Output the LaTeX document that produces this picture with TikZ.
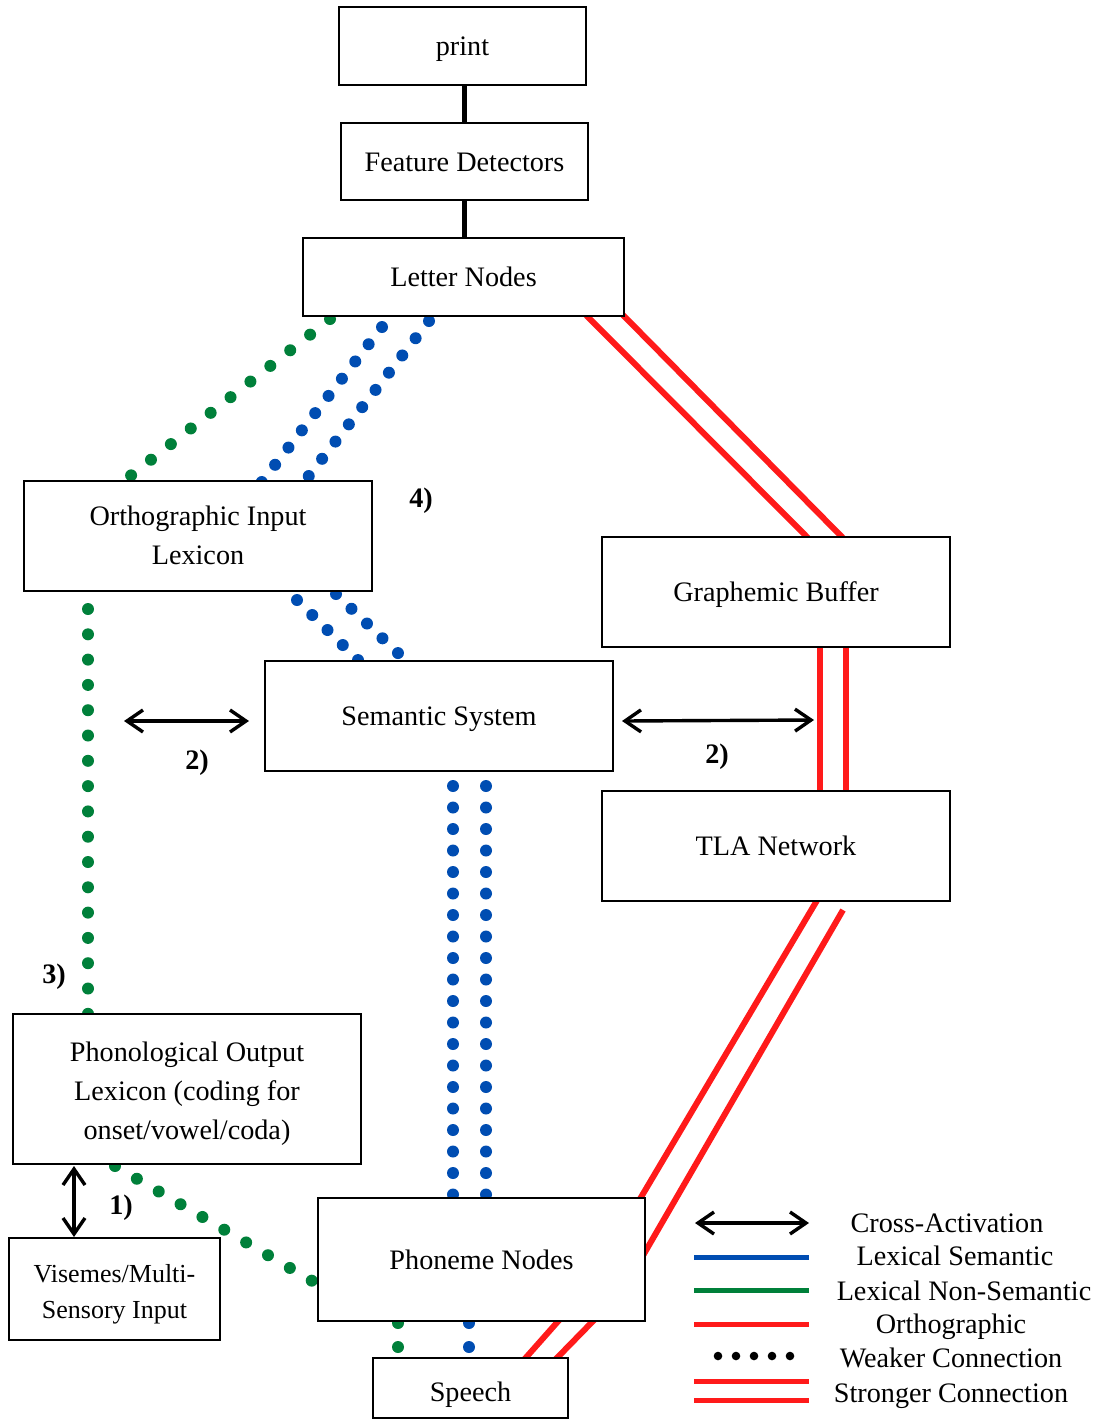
\documentclass[tikz,border=0pt]{standalone}
\usepackage{fontspec}
\setmainfont{Liberation Serif}
\usetikzlibrary{arrows.meta,calc,backgrounds}
\definecolor{lexblue}{RGB}{0,77,178}
\definecolor{lexgreen}{RGB}{0,128,58}
\definecolor{orthred}{RGB}{255,26,26}
\newcommand{\lowlines}[2]{\raisebox{#1}[\height][\depth]{\begin{tabular}{@{}c@{}}#2\end{tabular}}}
\begin{document}
\begin{tikzpicture}[x=0.5pt,y=-0.5pt,
 box/.style={draw=black,line width=1pt,fill=white,inner sep=0pt,align=center,font=\fontsize{14.1pt}{19.5pt}\selectfont},
 oneline/.style={text height=12.5pt,text depth=3pt},
 bdots/.style={lexblue,line width=6pt,line cap=round,dash pattern=on 0pt off 10.9pt},
 gdots/.style={lexgreen,line width=6pt,line cap=round,dash pattern=on 0pt off 12.65pt},
 redline/.style={orthred,line width=3pt},
 thickblack/.style={black,line width=2.5pt},
 crossarrow/.style={black,line width=1.7pt,{Straight Barb[length=8pt,width=11pt]}-{Straight Barb[length=8pt,width=11pt]}},
 numlabel/.style={font=\bfseries\fontsize{14.1pt}{17pt}\selectfont,inner sep=0pt},
 legtext/.style={font=\fontsize{14.1pt}{17pt}\selectfont,inner sep=0pt,anchor=base}
]
\useasboundingbox (0,0) rectangle (1099,1420);

% boxes
\node[box,oneline,minimum width=123.5pt,minimum height=39pt] (print) at (462.5,46) {print};
\node[box,oneline,minimum width=123.5pt,minimum height=38.5pt] (fd) at (464.5,161.5) {Feature Detectors};
\node[box,oneline,minimum width=160.5pt,minimum height=39pt] (letter) at (463.5,277) {Letter Nodes};
\node[box,minimum width=174pt,minimum height=55pt] (ortho) at (198,536) {\lowlines{-0.6pt}{Orthographic Input\\Lexicon}};
\node[box,oneline,minimum width=174pt,minimum height=55pt] (graph) at (776,592) {Graphemic Buffer};
\node[box,oneline,minimum width=174pt,minimum height=55pt] (sem) at (439,716) {Semantic System};
\node[box,oneline,minimum width=174pt,minimum height=55pt] (tla) at (776,846) {TLA Network};
\node[box,minimum width=174pt,minimum height=75pt] (phon) at (187,1089) {\lowlines{-2pt}{Phonological Output\\Lexicon (coding for\\onset/vowel/coda)}};
\node[box,minimum width=105.5pt,minimum height=51pt,font=\fontsize{13pt}{18pt}\selectfont] (vis) at (114.5,1289) {\lowlines{-2.3pt}{Visemes/Multi-\\Sensory Input}};
\node[box,oneline,minimum width=163.5pt,minimum height=61.5pt] (phoneme) at (481.5,1259.5) {Phoneme Nodes};
\node[box,text height=16pt,text depth=3pt,minimum width=97.5pt,minimum height=30pt] (speech) at (470.5,1388) {Speech};

\begin{pgfonlayer}{background}
% black
\draw[thickblack] (fd.north |- print.south) -- (fd.north);
\draw[thickblack] (fd.south) -- (fd.south |- letter.north);
% green dotted
\draw[gdots] ($(letter.south west)+(28,2)$) -- ($(ortho.north west)+(106,-3)$);
\draw[gdots] ($(ortho.south west)+(65,17)$) -- ($(phon.north west)+(76,5)$);
\draw[gdots] ($(phon.south west)+(103,1)$) -- ($(phoneme.north west)+(-3,85)$);
\draw[gdots,dash pattern=on 0pt off 12pt] ($(phoneme.south west)+(81,1)$) -- ($(speech.north west)+(26,0)$);
% blue dotted
\draw[bdots] ($(letter.south west)+(80,10)$) -- ($(ortho.north west)+(238,3)$);
\draw[bdots] ($(letter.south west)+(127,4)$) -- ($(ortho.north west)+(285,-3)$);
\draw[bdots,dash pattern=on 0pt off 10.7pt] ($(ortho.south west)+(274,8)$) -- ($(sem.north west)+(96,2)$);
\draw[bdots,dash pattern=on 0pt off 10.7pt] ($(ortho.south west)+(313,2)$) -- ($(sem.north west)+(136,-5)$);
\draw[bdots,dash pattern=on 0pt off 10.75pt] ($(sem.south west)+(189,14)$) -- ($(phoneme.north west)+(136,0)$);
\draw[bdots,dash pattern=on 0pt off 10.75pt] ($(sem.south west)+(222,14)$) -- ($(phoneme.north west)+(169,0)$);
\draw[bdots,dash pattern=on 0pt off 12pt] ($(phoneme.south west)+(152,1)$) -- ($(speech.north west)+(97,0)$);
% red double
\draw[redline] ($(letter.south east)+(-39,-2)$) -- ($(graph.north west)+(207,2)$);
\draw[redline] ($(letter.south east)+(-2,-2)$) -- ($(graph.north west)+(242,2)$);
\draw[redline] ($(graph.south west)+(219,0)$) -- ($(tla.north west)+(219,0)$);
\draw[redline] ($(graph.south west)+(245,0)$) -- ($(tla.north west)+(245,0)$);
\draw[redline] ($(tla.south west)+(218,-5)$) -- ($(phoneme.north east)+(-9,7)$);
\draw[redline] ($(tla.south west)+(242,8)$) -- ($(phoneme.north east)+(-5,62)$);
\draw[redline] ($(phoneme.south west)+(244,-4)$) -- ($(speech.north west)+(150,5)$);
\draw[redline] ($(phoneme.south west)+(279,-4)$) -- ($(speech.north west)+(181,5)$);
\end{pgfonlayer}

% cross-activation arrows
\draw[crossarrow] ($(sem.west)+(-140,5)$) -- ($(sem.west)+(-15,5)$);
\draw[crossarrow] ($(sem.east)+(8,5)$) -- ($(tla.north west)+(213,-70)$);
\draw[crossarrow] ($(phon.south west)+(62,1)$) -- ($(vis.north west)+(66,0)$);

% number labels
\node[numlabel] (l4) at (421,501) {4)};
\node[numlabel] (l2a) at (197,763) {2)};
\node[numlabel] (l2b) at (717,757) {2)};
\node[numlabel] (l3) at (54,977) {3)};
\node[numlabel] (l1) at (121,1208) {1)};

% legend
\coordinate (la1) at (695,1223); \coordinate (lb1) at (809,1223);
\coordinate (la2) at (694,1257); \coordinate (lb2) at (809,1257);
\coordinate (la3) at (694,1290); \coordinate (lb3) at (809,1290);
\coordinate (la4) at (694,1324); \coordinate (lb4) at (809,1324);
\coordinate (la5) at (718,1356); \coordinate (lb5) at (792,1356);
\coordinate (la6) at (694,1381); \coordinate (lb6) at (809,1381);
\coordinate (la7) at (694,1400); \coordinate (lb7) at (809,1400);
\draw[crossarrow] (la1) -- (lb1);
\draw[lexblue,line width=2.5pt] (la2) -- (lb2);
\draw[lexgreen,line width=2.5pt] (la3) -- (lb3);
\draw[orthred,line width=2.5pt] (la4) -- (lb4);
\draw[black,line width=4.3pt,line cap=round,dash pattern=on 0pt off 9pt] (la5) -- (lb5);
\draw[orthred,line width=2.5pt] (la6) -- (lb6);
\draw[orthred,line width=2.5pt] (la7) -- (lb7);
\node[legtext] (t1) at (947,1232) {Cross-Activation};
\node[legtext] (t2) at (955,1265) {Lexical Semantic};
\node[legtext] (t3) at (964,1300) {Lexical Non-Semantic};
\node[legtext] (t4) at (951,1333) {Orthographic};
\node[legtext] (t5) at (951,1367) {Weaker Connection};
\node[legtext] (t6) at (951,1402) {Stronger Connection};
\end{tikzpicture}
\end{document}
